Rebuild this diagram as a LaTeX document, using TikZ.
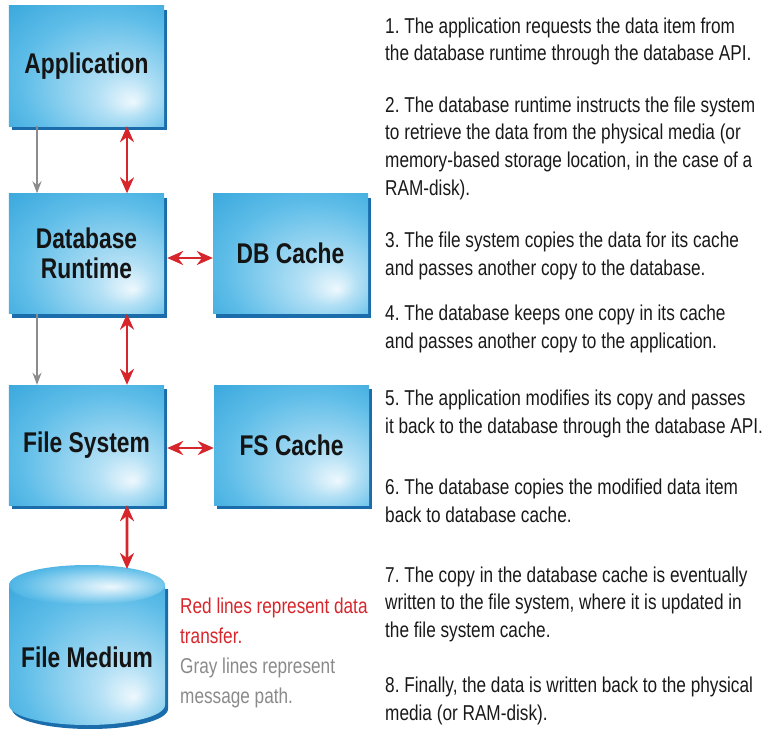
\documentclass[tikz,border=0pt]{standalone}
\usepackage{fontspec}
\setmainfont{Liberation Sans}[FakeStretch=0.80]
\usetikzlibrary{arrows.meta,shadows}
\definecolor{boxhi}{HTML}{EEF8FD}
\definecolor{boxlight}{HTML}{B3E0F5}
\definecolor{boxmid}{HTML}{5EBDE8}
\definecolor{boxdark}{HTML}{1A95D3}
\definecolor{boxshadow}{HTML}{1A6DAA}
\definecolor{datared}{HTML}{D7262B}
\definecolor{msggray}{HTML}{8C8C8C}
\definecolor{legendgray}{HTML}{8A8A8A}
\pgfdeclareradialshading{boxshade}{\pgfpoint{15bp}{-15bp}}{color(0bp)=(boxhi); color(9bp)=(boxlight); color(28bp)=(boxmid); color(52bp)=(boxdark)}
\pgfdeclareradialshading{topshade}{\pgfpoint{8bp}{-2bp}}{color(0bp)=(boxhi); color(10bp)=(boxlight); color(24bp)=(boxmid); color(40bp)=(boxdark)}
\newcommand\boxfont{\fontsize{28.5bp}{30bp}\selectfont\bfseries}
\newcommand\notefont{\fontsize{21.5bp}{27.5bp}\selectfont}
\newcommand\keyfont{\fontsize{21.5bp}{30bp}\selectfont}
\frenchspacing
\tikzset{
  box/.style={shade, shading=boxshade, minimum width=155bp, minimum height=120bp,
    inner sep=0pt, align=center, font=\boxfont, text=black!92,
    drop shadow={shadow xshift=3bp, shadow yshift=-4bp, fill=boxshadow, opacity=1}},
  note/.style={anchor=base west, align=left, inner sep=0pt, font=\notefont, text=black!90},
  dataarrow/.style={{Stealth[length=16bp,width=14bp]}-{Stealth[length=16bp,width=14bp]}, line width=2.8bp, draw=datared},
  msgarrow/.style={-{Stealth[length=12bp,width=9bp]}, line width=1.7bp, draw=msggray}
}
\begin{document}
\begin{tikzpicture}[x={(1bp,0)}, y={(0,-1bp)}]
\useasboundingbox (0,0) rectangle (766,729);
% boxes
\node[box] (app) at (86.5,66)    {Application};
\node[box] (db)  at (86.5,253.5) {Database\\Runtime};
\node[box] (dbc) at (290.5,253.5) {DB Cache};
\node[box] (fs)  at (86.5,445)   {File System};
\node[box] (fsc) at (291.5,445)  {FS Cache};
% file medium cylinder
\fill[boxshadow] (12,589) -- (12,709) arc[start angle=180, end angle=0, x radius=78, y radius=20] -- (168,589) -- cycle;
\shade[shading=boxshade] (9,585) -- (9,705) arc[start angle=180, end angle=0, x radius=78, y radius=20] -- (165,585) -- cycle;
\shade[shading=topshade] (87,585) ellipse[x radius=78, y radius=20];
\node[font=\boxfont, text=black!92] (med) at (87,657) {File Medium};
\coordinate (medtop) at (127,569);
% connectors
\draw[msgarrow]  ([xshift=-49.5bp]app.south) -- ([xshift=-49.5bp]db.north);
\draw[dataarrow] ([xshift=40.5bp]app.south) -- ([xshift=40.5bp]db.north);
\draw[msgarrow]  ([xshift=-49.5bp]db.south) -- ([xshift=-49.5bp]fs.north);
\draw[dataarrow] ([xshift=40.5bp]db.south) -- ([xshift=40.5bp]fs.north);
\draw[dataarrow] ([xshift=40.5bp]fs.south) -- (medtop);
\draw[dataarrow] ([xshift=3bp,yshift=-4.5bp]db.east) -- ([yshift=-4.5bp]dbc.west);
\draw[dataarrow] ([xshift=3bp,yshift=-3bp]fs.east) -- ([yshift=-3bp]fsc.west);
% legend
\node[note, text=datared, font=\keyfont] (redkey) at (180,643) {Red lines represent data\\transfer.};
\node[note, text=legendgray, font=\keyfont] (graykey) at (180,703) {Gray lines represent\\message path.};
% steps (base = last line)
\node[note] (s1) at (385,61)  {1. The application requests the data item from\\the database runtime through the database API.};
\node[note] (s2) at (385,195) {2. The database runtime instructs the file system\\to retrieve the data from the physical media (or\\memory-based storage location, in the case of a\\RAM-disk).};
\node[note] (s3) at (385,275) {3. The file system copies the data for its cache\\and passes another copy to the database.};
\node[note] (s4) at (385,348) {4. The database keeps one copy in its cache\\and passes another copy to the application.};
\node[note] (s5) at (385,433) {5. The application modifies its copy and passes\\it back to the database through the database API.};
\node[note] (s6) at (385,522) {6. The database copies the modified data item\\back to database cache.};
\node[note] (s7) at (385,637) {7. The copy in the database cache is eventually\\written to the file system, where it is updated in\\the file system cache.};
\node[note] (s8) at (385,720) {8. Finally, the data is written back to the physical\\media (or RAM-disk).};
\end{tikzpicture}
\end{document}
